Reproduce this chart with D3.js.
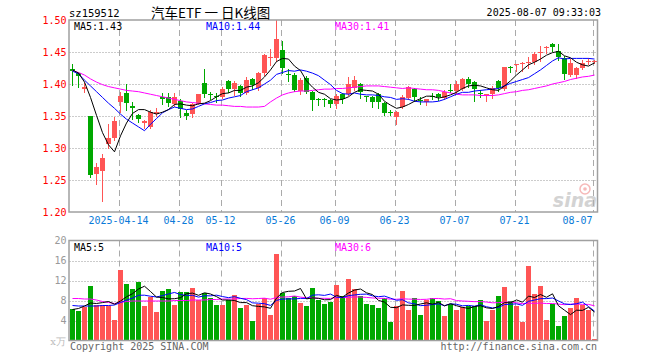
<!DOCTYPE html>
<html>
<head>
<meta charset="utf-8">
<script src="https://cdn.jsdelivr.net/npm/d3@7"></script>
<style>
  body { margin: 0; background: #fff; }
</style>
</head>
<body>
<div id="chart"></div>
<script>
// trading days shown (MM-DD, 2025)
const dates = [
  '04-01','04-02','04-03','04-07','04-08','04-09','04-10','04-11','04-14','04-15',
  '04-16','04-17','04-18','04-21','04-22','04-23','04-24','04-25','04-28','04-29',
  '04-30','05-06','05-07','05-08','05-09','05-12','05-13','05-14','05-15','05-16',
  '05-19','05-20','05-21','05-22','05-23','05-26','05-27','05-28','05-29','05-30',
  '06-03','06-04','06-05','06-06','06-09','06-10','06-11','06-12','06-13','06-16',
  '06-17','06-18','06-19','06-20','06-23','06-24','06-25','06-26','06-27','06-30',
  '07-01','07-02','07-03','07-04','07-07','07-08','07-09','07-10','07-11','07-14',
  '07-15','07-16','07-17','07-18','07-21','07-22','07-23','07-24','07-25','07-28',
  '07-29','07-30','07-31','08-01','08-04','08-05','08-06','08-07'
]

const open = [
  1.423,1.417,1.392,1.350,1.260,1.263,1.305,1.316,1.371,1.386,
  1.366,1.352,1.339,1.333,1.354,1.380,1.379,1.369,1.373,1.355,
  1.353,1.369,1.402,1.385,1.382,1.380,1.405,1.391,1.397,1.386,
  1.408,1.393,1.417,1.441,1.440,1.453,1.416,1.414,1.390,1.410,
  1.388,1.377,1.377,1.375,1.369,1.384,1.385,1.394,1.400,1.381,
  1.380,1.385,1.371,1.356,1.349,1.364,1.379,1.392,1.375,1.371,
  1.382,1.384,1.379,1.390,1.389,1.392,1.408,1.403,1.386,1.384,
  1.385,1.404,1.392,1.427,1.430,1.432,1.434,1.434,1.449,1.457,
  1.462,1.452,1.440,1.415,1.414,1.425,1.435,1.435
]
const high = [
  1.431,1.418,1.402,1.350,1.277,1.290,1.338,1.348,1.388,1.400,
  1.372,1.353,1.343,1.360,1.362,1.386,1.386,1.386,1.376,1.359,
  1.371,1.385,1.423,1.388,1.386,1.395,1.407,1.404,1.399,1.411,
  1.409,1.418,1.447,1.455,1.500,1.467,1.423,1.417,1.409,1.412,
  1.389,1.378,1.378,1.376,1.384,1.386,1.411,1.412,1.401,1.382,
  1.381,1.386,1.372,1.359,1.358,1.383,1.397,1.394,1.380,1.377,
  1.386,1.386,1.391,1.400,1.405,1.410,1.411,1.404,1.390,1.385,
  1.397,1.406,1.427,1.428,1.432,1.434,1.442,1.450,1.459,1.459,
  1.464,1.463,1.443,1.439,1.427,1.438,1.441,1.438
]
const low = [
  1.399,1.396,1.388,1.255,1.243,1.217,1.300,1.312,1.357,1.360,
  1.346,1.340,1.332,1.331,1.350,1.369,1.365,1.366,1.349,1.345,
  1.349,1.368,1.379,1.376,1.372,1.378,1.387,1.383,1.381,1.384,
  1.392,1.391,1.414,1.430,1.436,1.417,1.405,1.389,1.385,1.386,
  1.359,1.367,1.366,1.364,1.363,1.371,1.383,1.390,1.378,1.373,
  1.364,1.363,1.352,1.352,1.337,1.362,1.376,1.373,1.368,1.367,
  1.376,1.375,1.377,1.387,1.386,1.390,1.395,1.373,1.379,1.373,
  1.378,1.389,1.390,1.418,1.421,1.421,1.425,1.432,1.436,1.449,
  1.452,1.437,1.408,1.413,1.410,1.424,1.431,1.433
]
const close = [
  1.420,1.413,1.395,1.258,1.271,1.284,1.315,1.342,1.381,1.371,
  1.363,1.345,1.342,1.357,1.357,1.377,1.369,1.380,1.360,1.351,
  1.368,1.384,1.385,1.383,1.380,1.392,1.392,1.401,1.386,1.406,
  1.399,1.417,1.445,1.442,1.470,1.425,1.414,1.391,1.407,1.388,
  1.375,1.376,1.376,1.368,1.382,1.376,1.400,1.407,1.388,1.380,
  1.372,1.372,1.355,1.355,1.357,1.379,1.396,1.379,1.374,1.376,
  1.381,1.379,1.388,1.389,1.400,1.408,1.400,1.392,1.385,1.385,
  1.394,1.393,1.426,1.426,1.431,1.433,1.435,1.447,1.450,1.458,
  1.457,1.442,1.415,1.433,1.425,1.433,1.436,1.436
]

// price moving averages as drawn
const ma5 = [
  1.422,1.417,1.403,1.379,1.351,1.324,1.305,1.294,1.319,1.339,
  1.354,1.360,1.360,1.356,1.353,1.356,1.360,1.368,1.369,1.367,
  1.366,1.369,1.370,1.374,1.380,1.385,1.386,1.390,1.390,1.395,
  1.397,1.402,1.411,1.422,1.435,1.440,1.439,1.428,1.421,1.405,
  1.395,1.387,1.384,1.377,1.375,1.376,1.380,1.387,1.391,1.390,
  1.389,1.384,1.373,1.367,1.362,1.364,1.368,1.373,1.377,1.381,
  1.381,1.378,1.380,1.383,1.387,1.393,1.397,1.398,1.397,1.394,
  1.391,1.390,1.397,1.405,1.414,1.422,1.430,1.434,1.439,1.445,
  1.449,1.451,1.444,1.441,1.434,1.430,1.428,1.433
]
const ma10 = [
  1.420,1.416,1.406,1.397,1.388,1.379,1.370,1.362,1.353,1.345,
  1.339,1.333,1.327,1.337,1.346,1.355,1.360,1.364,1.362,1.360,
  1.361,1.365,1.369,1.371,1.374,1.375,1.378,1.380,1.382,1.388,
  1.391,1.394,1.400,1.406,1.415,1.418,1.421,1.420,1.422,1.420,
  1.417,1.413,1.406,1.399,1.390,1.385,1.384,1.386,1.384,1.383,
  1.383,1.382,1.380,1.379,1.376,1.377,1.376,1.373,1.372,1.372,
  1.372,1.373,1.376,1.380,1.384,1.387,1.387,1.389,1.390,1.391,
  1.392,1.393,1.397,1.401,1.404,1.407,1.410,1.416,1.422,1.429,
  1.436,1.441,1.439,1.440,1.440,1.440,1.440,1.439
]
const ma30 = [
  1.421,1.418,1.414,1.408,1.403,1.399,1.396,1.394,1.392,1.390,
  1.389,1.388,1.386,1.384,1.382,1.380,1.378,1.376,1.374,1.372,
  1.371,1.370,1.369,1.368,1.367,1.367,1.366,1.365,1.365,1.364,
  1.364,1.364,1.365,1.372,1.378,1.383,1.386,1.388,1.389,1.389,
  1.390,1.391,1.392,1.392,1.393,1.393,1.394,1.395,1.396,1.397,
  1.397,1.397,1.396,1.395,1.394,1.393,1.394,1.393,1.392,1.391,
  1.391,1.390,1.388,1.386,1.384,1.383,1.383,1.383,1.382,1.382,
  1.382,1.383,1.385,1.387,1.388,1.390,1.391,1.393,1.395,1.397,
  1.400,1.402,1.404,1.407,1.409,1.411,1.412,1.414
]

// volume (x万) and its averages
const volume = [
  6.3,5.9,6.8,10.9,7.1,7.2,7.0,4.1,14.1,11.3,
  10.3,11.7,6.9,8.8,5.7,9.9,10.3,7.1,9.8,9.7,
  10.5,8.1,9.6,8.6,7.1,7.1,8.1,9.1,6.5,7.1,
  4.0,7.4,8.6,5.1,17.3,9.6,8.6,8.9,7.6,6.9,
  10.6,8.2,7.4,7.8,11.1,8.9,12.3,10.3,8.9,7.3,
  7.1,6.5,8.6,3.7,6.9,9.9,6.1,8.5,5.1,8.1,
  8.5,7.9,5.0,7.3,6.1,6.8,6.9,6.9,8.1,4.0,
  6.1,8.9,10.8,7.9,6.9,3.8,15.0,9.4,10.9,4.1,
  7.3,3.0,5.0,6.5,8.5,7.1,6.1,0.3
]
const volMa5 = [
  6.2,6.4,6.9,7.5,7.40,7.58,7.80,7.26,7.90,8.74,
  9.36,10.30,10.86,9.80,8.68,8.60,8.32,8.36,8.56,9.36,
  9.48,9.04,9.54,9.30,8.78,8.10,8.10,8.00,7.58,7.58,
  6.96,6.82,6.72,6.44,8.48,9.60,9.84,9.90,10.40,8.32,
  8.52,8.44,8.14,8.18,9.02,8.68,9.50,10.08,10.30,9.54,
  9.18,8.02,7.68,6.64,6.56,7.12,7.04,7.02,7.30,7.54,
  7.26,7.62,6.92,7.36,6.96,6.62,6.42,6.80,6.96,6.54,
  6.40,6.80,7.58,7.54,8.12,7.66,8.88,8.60,9.20,8.64,
  9.34,6.94,6.06,5.18,6.06,6.02,6.64,5.70
]
const volMa10 = [
  7.0,6.9,6.9,6.9,6.9,7.0,7.0,7.1,7.6,8.07,
  8.47,9.05,9.06,8.85,8.71,8.98,9.31,9.61,9.18,9.02,
  9.04,8.68,8.95,8.93,9.07,8.79,8.57,8.77,8.44,8.18,
  7.53,7.46,7.36,7.01,8.03,8.28,8.33,8.31,8.42,8.40,
  9.06,9.14,9.02,9.29,8.67,8.60,8.97,9.11,9.24,9.28,
  8.93,8.76,8.88,8.47,8.05,8.15,7.53,7.35,6.97,7.05,
  7.19,7.33,6.97,7.33,7.25,6.94,7.02,6.86,7.16,6.75,
  6.51,6.61,7.19,7.25,7.33,7.03,7.84,8.09,8.37,8.38,
  8.50,7.91,7.33,7.19,7.35,7.68,6.79,5.88
]
const volMa30 = [
  8.4,8.4,8.3,8.3,8.1,7.8,7.6,7.4,7.6,7.8,
  7.9,7.9,7.9,7.9,7.9,7.9,7.9,8.0,8.0,8.0,
  8.1,8.1,8.1,8.2,8.2,8.3,8.3,8.3,8.4,8.42,
  8.35,8.40,8.46,8.26,8.60,8.68,8.74,8.90,8.68,8.53,
  8.54,8.43,8.44,8.41,8.59,8.56,8.62,8.73,8.70,8.62,
  8.51,8.45,8.42,8.26,8.25,8.34,8.28,8.26,8.21,8.24,
  8.39,8.41,8.29,8.36,7.99,7.90,7.84,7.77,7.79,7.69,
  7.54,7.57,7.68,7.68,7.54,7.37,7.46,7.43,7.50,7.39,
  7.40,7.28,7.16,7.26,7.31,7.22,7.22,6.94
]

const priceTicks = [1.50, 1.45, 1.40, 1.35, 1.30, 1.25, 1.20]
const volTicks = [20, 16, 12, 8, 4]
const dateTicks = ['04-14','04-28','05-12','05-26','06-09','06-23','07-07','07-21','08-07']
const dateTickLabels = ['2025-04-14','04-28','05-12','05-26','06-09','06-23','07-07','07-21','08-07']

// canvas
const width = 660,
  height = 360,
  left = 69.5,
  right = 597.5,
  mono = 'DejaVu Sans Mono'

const red = '#ff5555', green = '#00a800'

let svg = d3.select('#chart')
  .append('svg')
  .attr('width', width)
  .attr('height', height)
  .style('display', 'block')
  .style('background', '#fff')

const x = d3.scaleBand().domain(dates).range([left, right])
const cx = d => x(d) + x.bandwidth() / 2
const y = d3.scaleLinear().domain([1.20, 1.50]).range([212, 20])
const yv = d3.scaleLinear().domain([0, 20]).range([340.5, 240.5])

const idx = d3.range(dates.length)
const up = i => close[i] >= open[i]

// grid: vertical dashes at the date ticks, dotted price / volume levels
const grid = svg.append('g')
dateTicks.forEach(d => {
  const gx = Math.round(cx(d) - 2) + 0.5
  grid.append('line').attr('x1', gx).attr('x2', gx).attr('y1', 20).attr('y2', 212)
    .attr('stroke', '#aaa').attr('stroke-dasharray', '6,4')
  grid.append('line').attr('x1', gx).attr('x2', gx).attr('y1', 240.5).attr('y2', 340.5)
    .attr('stroke', '#aaa').attr('stroke-dasharray', '6,4')
})
priceTicks.slice(1, -1).forEach(p => {
  const gy = Math.round(y(p)) + 0.5
  grid.append('line').attr('x1', left).attr('x2', right).attr('y1', gy).attr('y2', gy)
    .attr('stroke', '#999').attr('stroke-dasharray', '1,2')
})
volTicks.slice(1).forEach(v => {
  const gy = Math.round(yv(v)) + 0.5
  grid.append('line').attr('x1', left).attr('x2', right).attr('y1', gy).attr('y2', gy)
    .attr('stroke', '#999').attr('stroke-dasharray', '1,2')
})

// sina watermark
const wm = svg.append('g').attr('opacity', 0.55)
wm.append('circle').attr('cx', 585).attr('cy', 189).attr('r', 5)
  .attr('fill', 'none').attr('stroke', '#f08080').attr('stroke-width', 1.5)
wm.append('circle').attr('cx', 585).attr('cy', 189).attr('r', 1.8).attr('fill', '#f08080')
wm.append('text').attr('x', 597).attr('y', 207).attr('text-anchor', 'end')
  .attr('font-family', 'DejaVu Sans').attr('font-size', 19).attr('font-weight', 'bold')
  .attr('font-style', 'italic').attr('fill', '#b0b0b0').text('sina')

// candles
const candles = svg.append('g')
candles.selectAll('line')
  .data(idx)
  .enter()
  .append('line')
  .attr('x1', i => cx(dates[i]))
  .attr('x2', i => cx(dates[i]))
  .attr('y1', i => Math.round(y(high[i])))
  .attr('y2', i => Math.round(y(low[i])) + 1)
  .attr('stroke', i => up(i) ? red : green)

candles.selectAll('rect')
  .data(idx)
  .enter()
  .append('rect')
  .attr('x', i => cx(dates[i]) - 2.5)
  .attr('y', i => Math.round(y(Math.max(open[i], close[i]))))
  .attr('width', 5)
  .attr('height', i => Math.max(1, Math.round(Math.abs(y(open[i]) - y(close[i])))))
  .attr('fill', i => up(i) ? red : green)
  .attr('shape-rendering', 'crispEdges')

// volume bars
svg.append('g').selectAll('rect')
  .data(idx)
  .enter()
  .append('rect')
  .attr('x', i => cx(dates[i]) - 2.5)
  .attr('y', i => Math.round(yv(volume[i])))
  .attr('width', 5)
  .attr('height', i => Math.max(1, 341 - Math.round(yv(volume[i]))))
  .attr('fill', i => up(i) ? red : green)
  .attr('shape-rendering', 'crispEdges')

// moving average lines
const drawLine = (values, scale, color) => {
  const line = d3.line()
    .x((d, i) => cx(dates[i]))
    .y(d => scale(d))
  svg.append('path')
    .datum(values)
    .attr('d', line)
    .attr('fill', 'none')
    .attr('stroke', color)
    .attr('stroke-width', 1)
}
drawLine(ma30, y, '#ff00ff')
drawLine(ma10, y, '#0000ff')
drawLine(ma5, y, '#000000')
drawLine(volMa30, yv, '#ff00ff')
drawLine(volMa10, yv, '#0000ff')
drawLine(volMa5, yv, '#000000')

// frames
svg.append('rect').attr('x', left - 0.5).attr('y', 20).attr('width', right - left + 0.5).attr('height', 192)
  .attr('fill', 'none').attr('stroke', '#a0a0a0').attr('stroke-width', 1.5)
svg.append('rect').attr('x', left - 0.5).attr('y', 240.5).attr('width', right - left + 0.5).attr('height', 100)
  .attr('fill', 'none').attr('stroke', '#a0a0a0').attr('stroke-width', 1.5)

// axes
const styleAxis = (g, color) => {
  g.select('.domain').remove()
  g.selectAll('text').attr('font-family', mono).attr('font-size', 10).attr('fill', color)
}
svg.append('g')
  .attr('transform', `translate(${left},0)`)
  .call(d3.axisLeft(y).tickValues(priceTicks).tickFormat(d3.format('.2f')).tickSize(0).tickPadding(3))
  .call(g => styleAxis(g, '#ff0000'))

svg.append('g')
  .attr('transform', `translate(${left},0)`)
  .call(d3.axisLeft(yv).tickValues(volTicks).tickSize(0).tickPadding(3))
  .call(g => styleAxis(g, '#999'))

svg.append('g')
  .attr('transform', 'translate(-2,212)')
  .call(d3.axisBottom(x).tickValues(dateTicks)
    .tickFormat(d => dateTickLabels[dateTicks.indexOf(d)]).tickSize(0).tickPadding(5))
  .call(g => styleAxis(g, '#0a7ad8'))
  .call(g => g.selectAll('.tick:last-of-type text').attr('text-anchor', 'end'))

svg.append('text').attr('x', 66).attr('y', 345).attr('text-anchor', 'end')
  .attr('font-family', 'DejaVu Serif').attr('font-size', 10).attr('fill', '#bbb')
  .text('x万')

// titles and legends
const txt = (tx, ty, s, color, opts = {}) => svg.append('text')
  .attr('x', tx).attr('y', ty)
  .attr('font-family', opts.font || mono)
  .attr('font-size', opts.size || 10)
  .attr('text-anchor', opts.anchor || 'start')
  .attr('fill', color)
  .style('white-space', 'pre')
  .text(s)

txt(69, 17, 'sz159512', '#000', { size: 10.5 })
txt(151, 18, '汽车ETF 一 日K线图', '#000', { font: 'Noto Sans CJK SC', size: 13.5 })
txt(601, 16, '2025-08-07 09:33:03', '#000', { anchor: 'end' })

txt(74, 30, 'MA5:' + d3.format('.2f')(ma5[ma5.length - 1]), '#000')
txt(206, 30, 'MA10:' + d3.format('.2f')(ma10[ma10.length - 1]), '#0000ff')
txt(335, 30, 'MA30:' + d3.format('.2f')(ma30[ma30.length - 1]), '#ff00ff')

txt(74, 251, 'MA5:' + Math.floor(volMa5[volMa5.length - 1]), '#000')
txt(206, 251, 'MA10:' + Math.floor(volMa10[volMa10.length - 1]), '#0000ff')
txt(335, 251, 'MA30:' + Math.floor(volMa30[volMa30.length - 1]), '#ff00ff')

txt(70, 350, 'Copyright 2025 SINA.COM', '#666')
txt(597, 350, 'http://finance.sina.com.cn', '#666', { anchor: 'end' })
</script>
</body>
</html>
